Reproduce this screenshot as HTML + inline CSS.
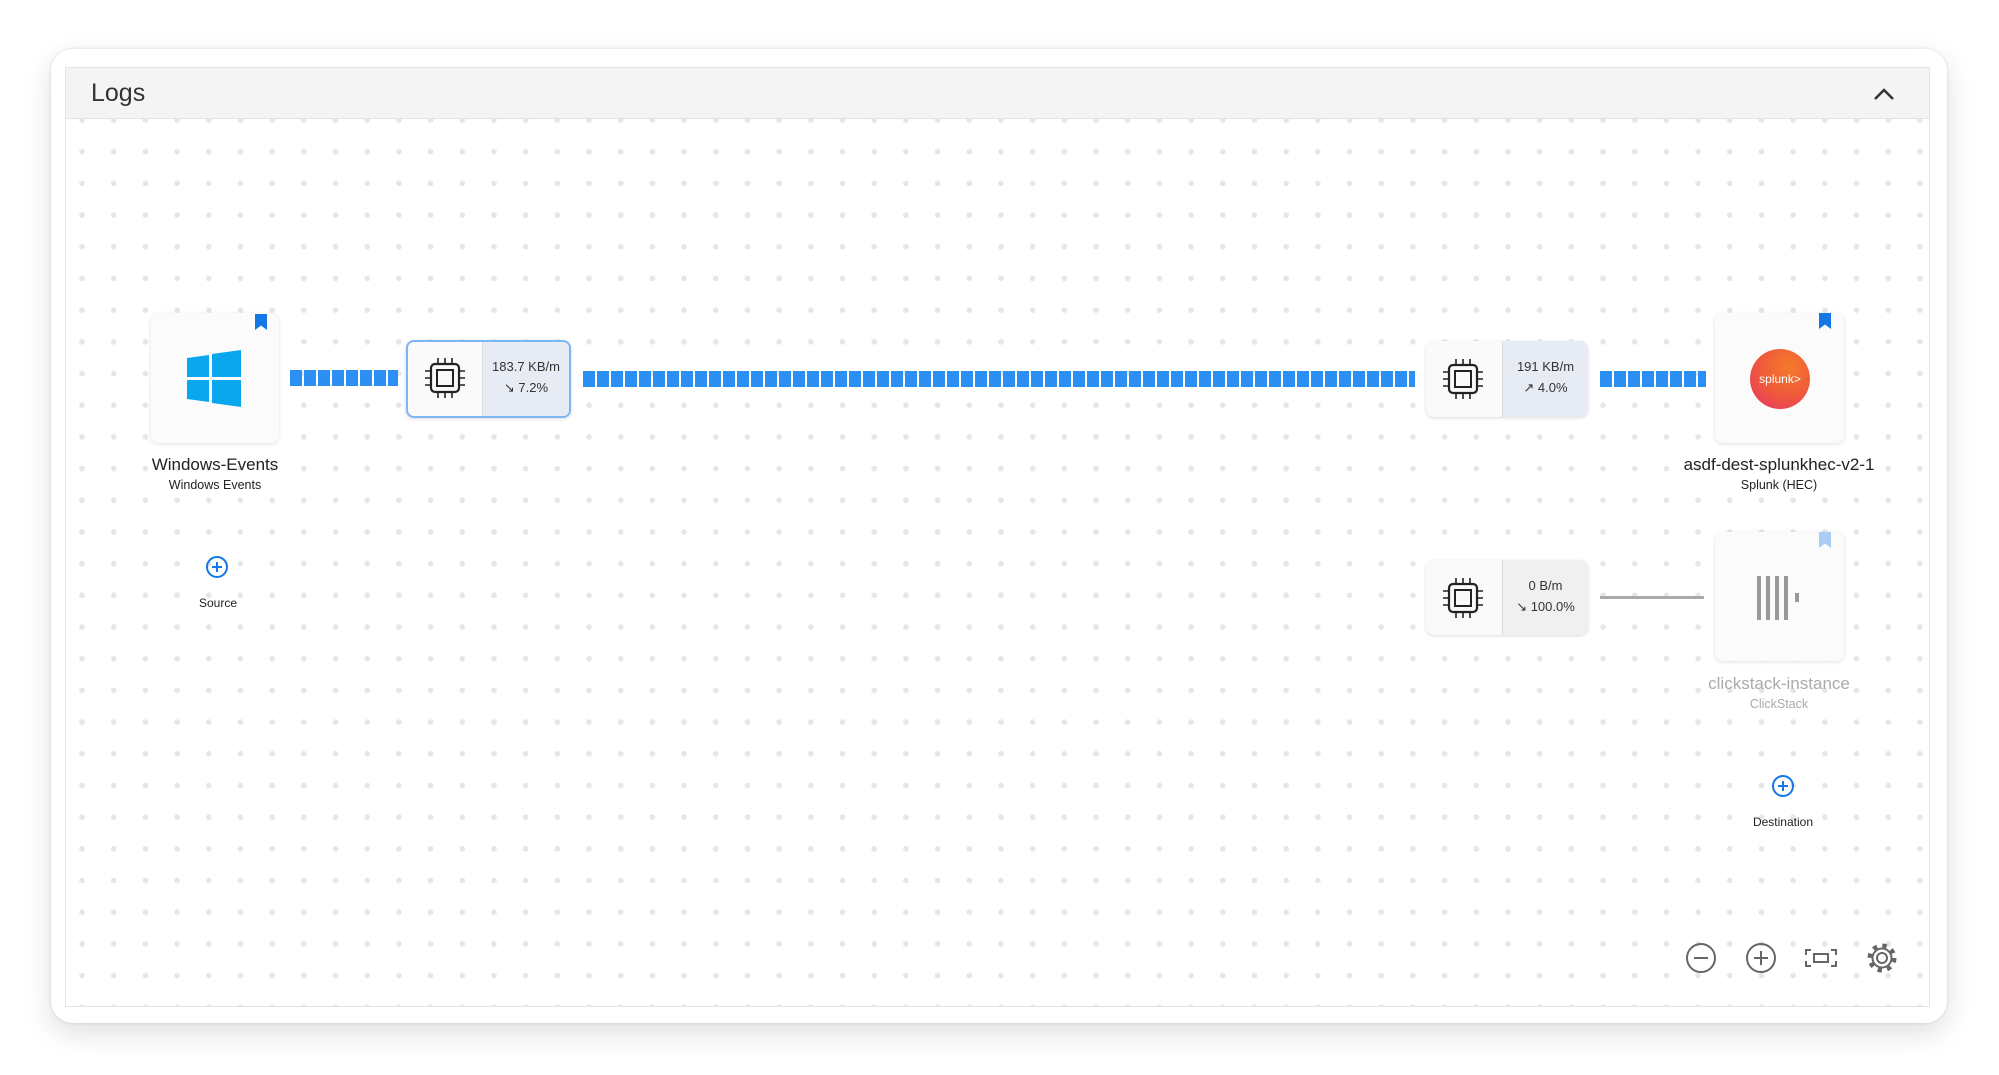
<!DOCTYPE html>
<html><head><meta charset="utf-8"><style>
html,body{margin:0;padding:0;background:#fff;width:1999px;height:1075px;overflow:hidden;font-family:"Liberation Sans",sans-serif;}
.outer{position:absolute;left:51px;top:49px;width:1896px;height:974px;background:#fff;border-radius:22px;box-shadow:0 10px 28px rgba(0,0,0,0.13),0 0 3px rgba(0,0,0,0.12);}
.panel{position:absolute;left:65px;top:67px;width:1865px;height:940px;border:1px solid #e3e3e3;box-sizing:border-box;
 background-color:#fff;background-image:radial-gradient(circle,#e6e6e6 2.6px,transparent 3px);background-size:31.7px 31.7px;background-position:0.2px 36.2px;}
.header{position:absolute;left:65px;top:67px;width:1865px;height:52px;background:#f4f4f4;border:1px solid #e3e3e3;box-sizing:border-box;}
.logs{position:absolute;left:91px;top:79px;font-size:25px;color:#333;}
.node{position:absolute;background:#fbfbfb;border-radius:8px;box-shadow:0 1px 4px rgba(0,0,0,0.12);}
.bm{position:absolute;width:12px;height:16px;background:#1577e6;clip-path:polygon(0 0,100% 0,100% 100%,50% 72%,0 100%);}
.lbl{position:absolute;text-align:center;width:300px;font-size:17px;color:#222;}
.sub{position:absolute;text-align:center;width:300px;font-size:12.5px;color:#222;}
.proc{position:absolute;border-radius:8px;background:#fafafa;box-shadow:0 1px 3px rgba(0,0,0,0.15);overflow:hidden;}
.proc .r{position:absolute;top:0;bottom:0;right:0;background:#e7ebf3;border-left:1px solid #ddd;font-size:13px;color:#333;text-align:center;}
.dash{position:absolute;height:16px;background:repeating-linear-gradient(90deg,#2b8ff3 0 12px,transparent 12px 14px);}
.chip{position:absolute;}
</style></head><body>
<div class="outer"></div>
<div class="panel"></div>
<div class="header"></div>
<div class="logs">Logs</div>
<svg style="position:absolute;left:1872px;top:86px" width="24" height="16"><path d="M3 13 L12 4 L21 13" stroke="#333" stroke-width="2.5" fill="none"/></svg>

<div class="node" style="left:151px;top:313px;width:128px;height:130px"></div>
<div class="bm" style="left:255px;top:314px"></div>
<svg style="position:absolute;left:185px;top:350px" width="60" height="58"><polygon points="2,8 24,5 24,27 2,27" fill="#0aa6ee"/><polygon points="27,4 56,0 56,27 27,27" fill="#0aa6ee"/><polygon points="2,30 24,30 24,52 2,49" fill="#0aa6ee"/><polygon points="27,30 56,30 56,57 27,53" fill="#0aa6ee"/></svg>
<div class="lbl" style="left:65px;top:455px">Windows-Events</div>
<div class="sub" style="left:65px;top:478px">Windows Events</div>

<svg style="position:absolute;left:205px;top:555px" width="24" height="24"><circle cx="12" cy="12" r="10" stroke="#1577e6" stroke-width="2" fill="none"/><path d="M12 7v10M7 12h10" stroke="#1577e6" stroke-width="2"/></svg>
<div class="sub" style="left:68px;top:596px;font-size:12px">Source</div>

<div class="dash" style="left:290px;top:370px;width:108px"></div>

<div class="proc" style="left:406px;top:340px;width:165px;height:78px;border:2px solid #7db6f5;box-sizing:border-box">
 <div class="r" style="width:86px"><div style="margin-top:17px">183.7 KB/m</div><div style="margin-top:6px">↘ 7.2%</div></div>
</div>
<svg class="chip" style="left:423px;top:355px" width="44" height="46"><rect x="8" y="9" width="28" height="28" rx="4" fill="none" stroke="#222" stroke-width="2.2"/><rect x="14" y="15" width="16" height="16" fill="none" stroke="#222" stroke-width="2"/><path d="M15 3v6M22 3v6M29 3v6M15 37v6M22 37v6M29 37v6M2 16h6M2 23h6M2 30h6M36 16h6M36 23h6M36 30h6" stroke="#222" stroke-width="1.6"/></svg>

<div class="dash" style="left:583px;top:371px;width:832px"></div>

<div class="proc" style="left:1426px;top:341px;width:162px;height:76px">
 <div class="r" style="width:85px"><div style="margin-top:18px">191 KB/m</div><div style="margin-top:6px">↗ 4.0%</div></div>
</div>
<svg class="chip" style="left:1441px;top:356px" width="44" height="46"><rect x="8" y="9" width="28" height="28" rx="4" fill="none" stroke="#222" stroke-width="2.2"/><rect x="14" y="15" width="16" height="16" fill="none" stroke="#222" stroke-width="2"/><path d="M15 3v6M22 3v6M29 3v6M15 37v6M22 37v6M29 37v6M2 16h6M2 23h6M2 30h6M36 16h6M36 23h6M36 30h6" stroke="#222" stroke-width="1.6"/></svg>

<div class="dash" style="left:1600px;top:371px;width:106px"></div>

<div class="node" style="left:1715px;top:313px;width:129px;height:130px"></div>
<div class="bm" style="left:1819px;top:313px"></div>
<div style="position:absolute;left:1750px;top:349px;width:60px;height:60px;border-radius:50%;background:radial-gradient(circle at 65% 30%,#f47b2a,#ef5a3a 50%,#e8306a);color:#fff;font-size:12px;text-align:center;line-height:60px">splunk&gt;</div>
<div class="lbl" style="left:1629px;top:455px">asdf-dest-splunkhec-v2-1</div>
<div class="sub" style="left:1629px;top:478px">Splunk (HEC)</div>

<div class="proc" style="left:1426px;top:560px;width:162px;height:75px">
 <div class="r" style="width:85px;background:#f0f0f0"><div style="margin-top:18px">0 B/m</div><div style="margin-top:6px">↘ 100.0%</div></div>
</div>
<svg class="chip" style="left:1441px;top:575px" width="44" height="46"><rect x="8" y="9" width="28" height="28" rx="4" fill="none" stroke="#222" stroke-width="2.2"/><rect x="14" y="15" width="16" height="16" fill="none" stroke="#222" stroke-width="2"/><path d="M15 3v6M22 3v6M29 3v6M15 37v6M22 37v6M29 37v6M2 16h6M2 23h6M2 30h6M36 16h6M36 23h6M36 30h6" stroke="#222" stroke-width="1.6"/></svg>

<div style="position:absolute;left:1600px;top:596px;width:104px;height:3px;background:#aaa"></div>

<div class="node" style="left:1715px;top:532px;width:129px;height:129px"></div>
<div class="bm" style="left:1819px;top:532px;background:#a9cdf5"></div>
<svg style="position:absolute;left:1755px;top:574px" width="50" height="48"><path d="M4 2v44M13 2v44M22 2v44M31 2v44" stroke="#999" stroke-width="4"/><rect x="40" y="19" width="4" height="9" fill="#999"/></svg>
<div class="lbl" style="left:1629px;top:674px;color:#aaa">clickstack-instance</div>
<div class="sub" style="left:1629px;top:697px;color:#aaa">ClickStack</div>

<svg style="position:absolute;left:1771px;top:774px" width="24" height="24"><circle cx="12" cy="12" r="10" stroke="#1577e6" stroke-width="2" fill="none"/><path d="M12 7v10M7 12h10" stroke="#1577e6" stroke-width="2"/></svg>
<div class="sub" style="left:1633px;top:815px;font-size:12px">Destination</div>

<svg style="position:absolute;left:1685px;top:942px" width="215" height="32">
 <g stroke="#666" stroke-width="2" fill="none">
  <circle cx="16" cy="16" r="14"/><path d="M9 16h14"/>
  <circle cx="76" cy="16" r="14"/><path d="M69 16h14M76 9v14"/>
  <path d="M126 8h-5v5M146 8h5v5M126 24h-5v-5M146 24h5v-5"/><rect x="129" y="12" width="14" height="8"/>
  <circle cx="197" cy="16" r="5"/>
  <circle cx="197" cy="16" r="9.5"/>
  <circle cx="197" cy="16" r="12" stroke-width="5" stroke-dasharray="4.2 5.22"/>
 </g>
</svg>
</body></html>
